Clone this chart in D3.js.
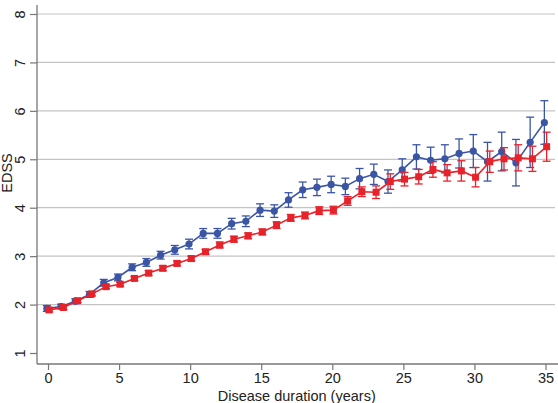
<!DOCTYPE html>
<html>
<head>
<meta charset="utf-8">
<script src="https://cdn.jsdelivr.net/npm/d3@7"></script>
<style>
  body { margin: 0; background: #fff; }
  svg { font-family: "Liberation Sans", Arial, sans-serif; }
</style>
</head>
<body>
<svg id="chart"></svg>
<script>
// disease duration (years)
var years = d3.range(0, 36)

// blue series (circles): mean EDSS and half-width of the error bar
var blueMean = [1.92, 1.96, 2.07, 2.21, 2.45, 2.56, 2.77, 2.87, 3.02, 3.13,
                3.25, 3.47, 3.47, 3.67, 3.72, 3.95, 3.93, 4.16, 4.37, 4.42,
                4.48, 4.44, 4.60, 4.69, 4.54, 4.78, 5.05, 4.98, 5.01, 5.12,
                5.17, 4.95, 5.16, 4.93, 5.35, 5.76]
var blueErr = [0.06, 0.05, 0.05, 0.06, 0.07, 0.07, 0.07, 0.08, 0.08, 0.09,
               0.10, 0.10, 0.10, 0.11, 0.11, 0.13, 0.13, 0.15, 0.16, 0.17,
               0.17, 0.17, 0.21, 0.21, 0.24, 0.23, 0.25, 0.27, 0.29, 0.30,
               0.34, 0.40, 0.40, 0.48, 0.52, 0.45]

// red series (squares)
var redMean = [1.89, 1.94, 2.08, 2.22, 2.37, 2.42, 2.54, 2.65, 2.75, 2.85,
               2.95, 3.09, 3.23, 3.35, 3.42, 3.50, 3.64, 3.79, 3.84, 3.94,
               3.95, 4.14, 4.33, 4.32, 4.54, 4.59, 4.64, 4.79, 4.72, 4.76,
               4.63, 4.95, 5.01, 5.03, 5.01, 5.26]
var redErr = [0.04, 0.04, 0.04, 0.04, 0.04, 0.04, 0.04, 0.05, 0.05, 0.05,
              0.05, 0.05, 0.06, 0.06, 0.06, 0.06, 0.07, 0.07, 0.07, 0.08,
              0.08, 0.09, 0.10, 0.13, 0.16, 0.14, 0.15, 0.16, 0.17, 0.21,
              0.20, 0.22, 0.23, 0.27, 0.26, 0.30]

var xTicks = [0, 5, 10, 15, 20, 25, 30, 35]
var yTicks = [1, 2, 3, 4, 5, 6, 7, 8]
var gridValues = [2, 3, 4, 5, 6, 7, 8]

var dimensions = {
    width: 558,
    height: 403,
    margin: { top: 5, bottom: 39, left: 37, right: 0 }
}

var blue = "#3b55a5"
var red = "#e6222a"

var svg = d3.select("#chart")
            .attr("width", dimensions.width)
            .attr("height", dimensions.height)

var xScale = d3.scaleLinear().domain([0, 35]).range([48, 545.5])
var yScale = d3.scaleLinear().domain([1, 8]).range([353, 14])

var bottom = dimensions.height - dimensions.margin.bottom

// gridlines
svg.append("g")
    .selectAll("line")
    .data(gridValues)
    .join("line")
    .attr("x1", dimensions.margin.left)
    .attr("x2", dimensions.width - 3)
    .attr("y1", d => yScale(d))
    .attr("y2", d => yScale(d))
    .attr("stroke", "#c4c4c4")
    .attr("stroke-width", 1.2)

// axes
var xAxisGen = d3.axisBottom(xScale).tickValues(xTicks).tickFormat(d3.format("d")).tickSize(6).tickSizeOuter(0)
var xAxis = svg.append("g")
    .attr("transform", `translate(0, ${bottom})`)
    .call(xAxisGen)
xAxis.select(".domain").remove()
xAxis.append("line")
    .attr("x1", dimensions.margin.left).attr("x2", dimensions.width)
    .attr("stroke", "#777").attr("stroke-width", 1.3)
xAxis.selectAll(".tick line").attr("stroke", "#777").attr("stroke-width", 1.2)
xAxis.selectAll(".tick text")
    .attr("fill", "#222")
    .attr("font-size", 14.5)
    .attr("y", 9)

var yAxisGen = d3.axisLeft(yScale).tickValues(yTicks).tickFormat(d3.format("d")).tickSize(7).tickSizeOuter(0)
var yAxis = svg.append("g")
    .attr("transform", `translate(${dimensions.margin.left}, 0)`)
    .call(yAxisGen)
yAxis.select(".domain").remove()
yAxis.append("line")
    .attr("y1", dimensions.margin.top).attr("y2", bottom)
    .attr("stroke", "#777").attr("stroke-width", 1.3)
yAxis.selectAll(".tick line").attr("stroke", "#777").attr("stroke-width", 1.2)
yAxis.selectAll(".tick text")
    .attr("fill", "#222")
    .attr("font-size", 14.5)
    .attr("x", 0).attr("dy", 0)
    .attr("text-anchor", "middle")
    .attr("transform", "translate(-12, 0) rotate(-90)")

// axis titles
svg.append("text")
    .attr("x", (xScale(0) + xScale(35)) / 2)
    .attr("y", 401)
    .attr("text-anchor", "middle")
    .attr("font-size", 14.5)
    .attr("fill", "#222")
    .text("Disease duration (years)")

svg.append("text")
    .attr("transform", "translate(12, 173) rotate(-90)")
    .attr("text-anchor", "middle")
    .attr("font-size", 14.5)
    .attr("fill", "#222")
    .text("EDSS")

// series
function drawSeries(means, errs, color, shift, shape) {
    var data = years.map((y, i) => ({ x: y + shift, m: means[i], e: errs[i] }))
    var g = svg.append("g")

    var line = d3.line().x(d => xScale(d.x)).y(d => yScale(d.m))
    g.append("path")
        .datum(data)
        .attr("d", line)
        .attr("fill", "none")
        .attr("stroke", color)
        .attr("stroke-width", 1.6)

    var bars = g.selectAll(".err").data(data).join("g").attr("class", "err")
    bars.append("line")
        .attr("x1", d => xScale(d.x)).attr("x2", d => xScale(d.x))
        .attr("y1", d => yScale(d.m - d.e)).attr("y2", d => yScale(d.m + d.e))
        .attr("stroke", color).attr("stroke-width", 1.3)
    bars.selectAll(".cap")
        .data(d => [d.m - d.e, d.m + d.e].map(v => ({ x: d.x, v: v })))
        .join("line")
        .attr("class", "cap")
        .attr("x1", d => xScale(d.x) - 4).attr("x2", d => xScale(d.x) + 4)
        .attr("y1", d => yScale(d.v)).attr("y2", d => yScale(d.v))
        .attr("stroke", color).attr("stroke-width", 1.3)

    if (shape === "circle") {
        g.selectAll(".pt").data(data).join("circle")
            .attr("cx", d => xScale(d.x)).attr("cy", d => yScale(d.m))
            .attr("r", 3.6)
            .attr("fill", color)
    } else {
        g.selectAll(".pt").data(data).join("rect")
            .attr("x", d => xScale(d.x) - 3.5).attr("y", d => yScale(d.m) - 3.5)
            .attr("width", 7).attr("height", 7)
            .attr("fill", color)
    }
}

drawSeries(blueMean, blueErr, blue, -0.08, "circle")
drawSeries(redMean, redErr, red, 0.08, "square")
</script>
</body>
</html>
